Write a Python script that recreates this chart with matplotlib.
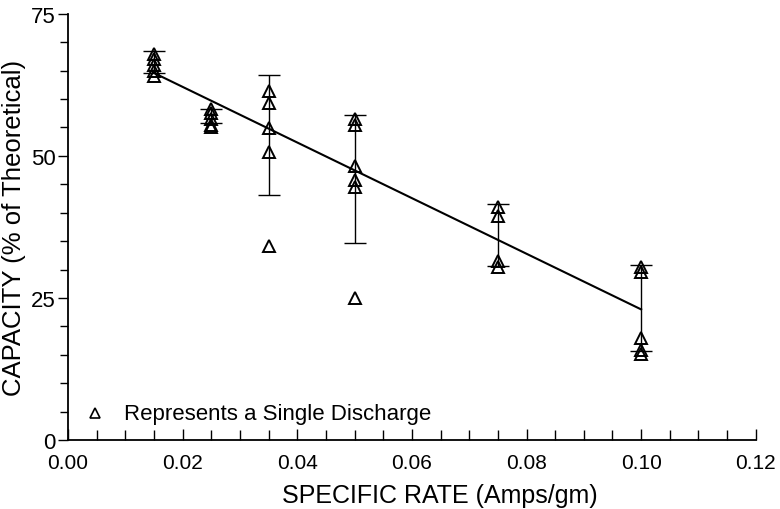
import matplotlib.pyplot as plt
import numpy as np
from matplotlib.ticker import MultipleLocator

# Dane: pojedyncze rozładowania
rate_groups = [0.015, 0.025, 0.035, 0.05, 0.075, 0.10]
capacity_groups = [
    [68.0, 67.0, 66.0, 65.0, 64.0],
    [58.3, 57.5, 56.5, 55.5, 55.0],
    [61.5, 59.3, 54.9, 50.7, 34.2],
    [56.5, 55.5, 48.2, 45.8, 44.6, 25.0],
    [41.0, 39.5, 31.5, 30.5],
    [30.5, 29.5, 18.0, 15.8, 15.2],
]
# Słupki błędów (dół, góra)
err_low = [64.6, 55.8, 43.1, 34.7, 30.6, 15.6]
err_high = [68.5, 58.2, 64.3, 57.2, 41.5, 30.8]

# Linia trendu
fit_x = [0.015, 0.10]
fit_y = [64.6, 23.0]

plt.rcParams['font.family'] = ['Liberation Sans', 'DejaVu Sans']

fig = plt.figure(figsize=(7.8, 5.1), dpi=100)
ax = fig.add_axes([0.087, 0.135, 0.882, 0.836])

for x, caps in zip(rate_groups, capacity_groups):
    ax.plot([x] * len(caps), caps, linestyle='none', marker='^', markersize=8.5,
            markerfacecolor='none', markeredgecolor='black', markeredgewidth=1.4)

mid = [(lo + hi) / 2 for lo, hi in zip(err_low, err_high)]
half = [(hi - lo) / 2 for lo, hi in zip(err_low, err_high)]
ax.errorbar(rate_groups, mid, yerr=half, fmt='none', ecolor='black',
            elinewidth=1.0, capsize=8, capthick=1.0)

ax.plot(fit_x, fit_y, color='black', linewidth=1.5)

# Legenda
ax.plot([0.0048], [4.7], linestyle='none', marker='^', markersize=7.5,
        markerfacecolor='none', markeredgecolor='black', markeredgewidth=1.2)
ax.text(0.0098, 4.7, 'Represents a Single Discharge', fontsize=16,
        va='center', ha='left')

# Osie
ax.set_xlim(0, 0.12)
ax.set_ylim(0, 75)
ax.xaxis.set_minor_locator(MultipleLocator(0.005))
ax.yaxis.set_major_locator(MultipleLocator(25))
ax.yaxis.set_minor_locator(MultipleLocator(5))
ax.set_xticks(np.arange(0, 0.1201, 0.02))
ax.set_xticklabels(['0.00', '0.02', '0.04', '0.06', '0.08', '0.10', '0.12'])
ax.tick_params(axis='x', which='major', direction='in', length=8, width=1.0,
               labelsize=15, pad=9)
ax.tick_params(axis='x', which='minor', direction='in', length=7, width=1.0)
ax.tick_params(axis='y', which='major', direction='out', length=7, width=1.0,
               labelsize=16, pad=2)
ax.tick_params(axis='y', which='minor', direction='out', length=6, width=1.0)

for side in ['top', 'right']:
    ax.spines[side].set_visible(False)
for side in ['left', 'bottom']:
    ax.spines[side].set_linewidth(1.3)

ax.set_xlabel('SPECIFIC RATE (Amps/gm)', fontsize=18)
ax.xaxis.set_label_coords(0.54, -0.1)
ax.set_ylabel('CAPACITY (% of Theoretical)', fontsize=18.5, labelpad=3)

fig.savefig('out.png', dpi=100)
